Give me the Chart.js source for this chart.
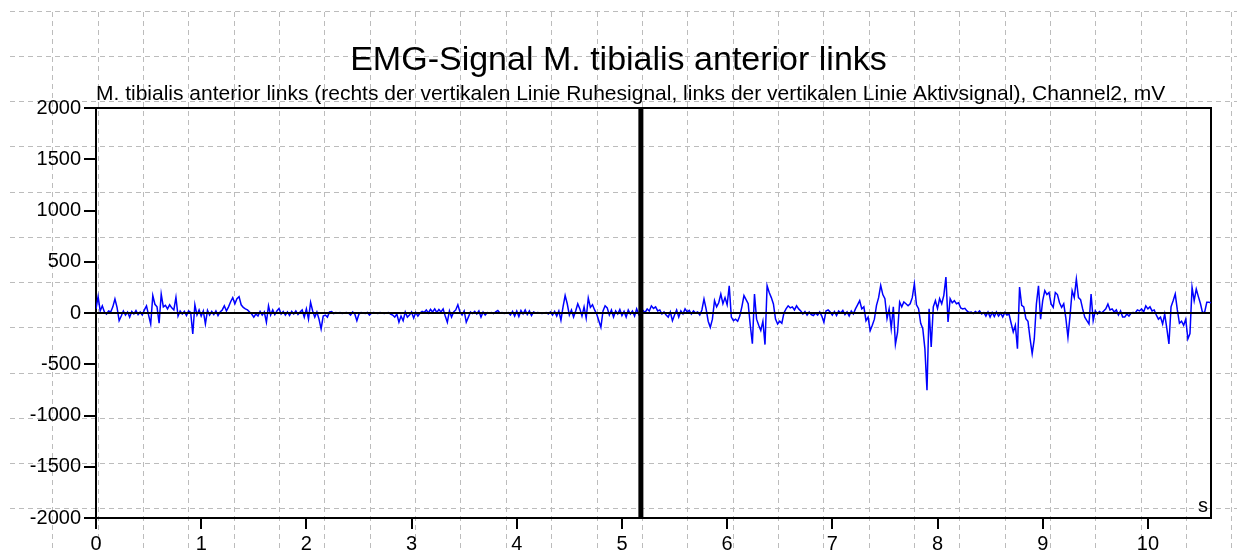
<!DOCTYPE html>
<html>
<head>
<meta charset="utf-8">
<script src="https://cdn.jsdelivr.net/npm/chart.js@4.4.1/dist/chart.umd.min.js"></script>
<style>
html,body{margin:0;padding:0;background:#fff;overflow:hidden}
#wrap{width:1237px;height:551px}
</style>
</head>
<body>
<div id="wrap"><canvas id="c" width="1237" height="551"></canvas></div>
<script>
const chartTitle = 'EMG-Signal M. tibialis anterior links';
const subTitle = 'M. tibialis anterior links (rechts der vertikalen Linie Ruhesignal, links der vertikalen Linie Aktivsignal), Channel2, mV';
const unitLabel = 's';
const xTickValues = [0, 1, 2, 3, 4, 5, 6, 7, 8, 9, 10];
const yTickValues = [-2000, -1500, -1000, -500, 0, 500, 1000, 1500, 2000];
const xRange = [0, 10.6];
const yRange = [-2000, 2000];
const sampleInterval = 0.02; // s between samples
const dividerTime = 5.18;     // vertical line (Aktiv | Ruhe)
const baselineValue = 0;

// Channel2 in mV, one row per 0.5 s (25 samples)
const signal = [
  40, 160, 20, 70, 10, -10, 20, 10, 60, 136, 55, -75, -30, 20, -20, 10, -40, 15, -10, 25, -15, 10, -20, 30, 70,
  -20, -107, 170, 85, 60, -100, 185, 60, 75, 40, 80, 50, 30, 152, -30, 20, -10, 15, -25, 20, 5, -205, 80, -20, 30,
  -30, 20, -107, 25, -20, 15, -15, 20, -25, 10, 30, 70, 20, 60, 110, 150, 90, 140, 160, 80, 55, 40, 30, 10, -10,
  -40, -10, -30, 15, -20, 10, -90, 70, -20, 30, -15, 20, 45, -10, 15, -20, 10, -25, 15, -10, 20, -15, 10, 30, -40,
  40, -60, 104, 20, -40, 10, -60, -156, -30, -20, -40, 10, 15, -5, 5, 0, 5, -5, 0, 5, 0, -20, 10, -10, -75,
  -10, 5, 0, -5, 5, -20, 0, 5, 0, -5, 5, 0, -5, 0, 5, -10, -20, -40, -10, -90, -30, -75, 10, -40, -20,
  10, -50, 5, -30, 0, 15, 5, 30, 0, 35, 10, 40, 5, 35, 10, 40, -30, -90, 20, -40, 10, 30, 80, 10, -20,
  20, -90, -40, 10, -5, 15, -10, 20, -40, 10, -20, 5, 0, 5, -5, 10, 25, 0, 5, -5, 0, 5, -20, 15, -30,
  20, -35, 25, -10, 30, -15, 20, -25, 10, 0, 5, 0, -5, 0, 5, -10, 10, -20, 15, -30, 20, -70, 60, 170, 90,
  -20, 30, -40, 20, 90, 40, -30, 60, -50, 146, 55, 80, 30, -10, -75, -140, 20, 70, 50, -20, 30, -40, 20, -10, 35,
  -25, 15, -40, 30, -10, 20, -30, 40, -15, 10, 25, 5, 40, 20, 70, 45, 60, 20, 30, -10, 10, -20, -40, 10, -75,
  -20, 30, -40, 20, -10, 40, 10, 25, -10, 20, 0, 10, -20, 30, 136, 40, -80, -140, -60, 120, 60, 100, 185, 90, 150,
  80, 266, -40, -75, -60, -80, -30, 60, 170, 130, 90, -120, -300, 185, -60, -120, -170, -80, -308, 266, 200, 150, 88, -60, -107,
  -80, -100, 0, 40, 70, 50, 60, 30, 70, 40, 20, -10, 15, -20, 10, -15, -25, 0, -20, 10, -30, -90, 20, 30, 10,
  -20, 15, -25, 20, 0, 25, -15, 10, -30, 20, -10, 40, 80, 120, 40, 60, -75, -40, -172, -120, -60, 75, 150, 270, 180,
  140, -55, 40, -150, 60, -305, -190, 107, 60, 107, 90, 70, 90, 150, 286, 80, 42, -100, -152, -348, -754, 42, -332, 60, 120,
  43, 140, 90, 172, 350, -88, 140, 100, 120, 90, 100, 50, 40, 45, 20, 5, 10, -5, 15, 0, 20, -10, 5, -30, 10,
  -40, 5, -35, 10, -30, 0, -40, 5, -20, -10, -100, -185, -120, -348, 253, 75, 60, -55, -80, -250, -397, -253, 88, 266, -60,
  120, 218, 180, 200, 88, 55, 200, 180, 100, 55, 90, -50, -237, -25, 218, 150, 330, 150, 130, 40, -40, -75, -107, 185, -75,
  20, -10, 15, 0, 20, 40, 88, 30, 40, 10, 30, -20, 20, -40, -40, -10, -30, 0, 5, 0, 30, 20, 40, 10, 70,
  40, 60, 20, 30, -20, -60, -40, -107, -10, -150, -302, 60, 120, 185, 30, -100, -80, -120, -60, -253, -200, 250, 120, 234, 160, 90, 0, 10, 104, 104, 100
];

const FONT = "'Liberation Sans', Arial, sans-serif";
Chart.defaults.font.family = FONT;
Chart.defaults.color = '#000';

const signalPoints = signal.map((v, i) => ({ x: Math.round(i * sampleInterval * 100) / 100, y: v }));

const paperGrid = {
  id: 'paperGrid',
  beforeDraw(chart) {
    const ctx = chart.ctx;
    ctx.save();
    ctx.fillStyle = '#fff';
    ctx.fillRect(0, 0, chart.width, chart.height);
    ctx.strokeStyle = '#bcbcbc';
    ctx.lineWidth = 1;
    ctx.setLineDash([5, 4]);
    for (let k = 0; k < 12; k++) {
      const y = Math.round(10.7 + 45.25 * k) + 0.5;
      ctx.beginPath(); ctx.moveTo(10, y); ctx.lineTo(chart.width, y); ctx.stroke();
    }
    for (let k = 0; k < 28; k++) {
      const x = Math.round(52.3 + 45.35 * k) + 0.5;
      if (x > chart.width) break;
      ctx.beginPath(); ctx.moveTo(x, 12); ctx.lineTo(x, chart.height); ctx.stroke();
    }
    ctx.restore();
  }
};

const unitText = {
  id: 'unitText',
  afterDraw(chart) {
    const { ctx, chartArea } = chart;
    ctx.save();
    ctx.font = '20px ' + FONT;
    ctx.fillStyle = '#000';
    ctx.textAlign = 'right';
    ctx.textBaseline = 'alphabetic';
    ctx.fillText(unitLabel, chartArea.right - 3, chartArea.bottom - 6);
    ctx.restore();
  }
};

const tickFont = { size: 20, family: FONT };
const plainNumber = v => String(v);

new Chart(document.getElementById('c'), {
  type: 'line',
  data: {
    datasets: [
      {
        label: 'Channel2',
        data: signalPoints,
        borderColor: '#0000ff',
        borderWidth: 1.5,
        pointRadius: 0,
        tension: 0,
        fill: false,
        order: 2
      },
      {
        label: 'Nulllinie',
        data: [{ x: xRange[0], y: baselineValue }, { x: xRange[1], y: baselineValue }],
        borderColor: '#000',
        borderWidth: 2,
        pointRadius: 0,
        fill: false,
        order: 1
      },
      {
        label: 'Trennlinie',
        data: [{ x: dividerTime, y: yRange[0] }, { x: dividerTime, y: yRange[1] }],
        borderColor: '#000',
        borderWidth: 5,
        pointRadius: 0,
        fill: false,
        order: 0
      }
    ]
  },
  options: {
    responsive: false,
    animation: false,
    devicePixelRatio: 1,
    layout: { padding: 0 },
    plugins: {
      legend: { display: false },
      tooltip: { enabled: false },
      title: {
        display: true,
        text: chartTitle,
        color: '#000',
        font: { size: 34, weight: 'normal', family: FONT },
        padding: { top: 40, bottom: 0 }
      }
    },
    scales: {
      x: {
        type: 'linear',
        position: 'bottom',
        min: xRange[0],
        max: xRange[1],
        afterBuildTicks: s => { s.ticks = xTickValues.map(v => ({ value: v })); },
        afterFit: s => { s.height = 33; },
        ticks: { autoSkip: false, maxRotation: 0, font: tickFont, color: '#000', padding: 3, callback: plainNumber },
        grid: { drawOnChartArea: false, drawTicks: true, tickLength: 11, color: '#000', lineWidth: 2 },
        border: { display: true, color: '#000', width: 2 }
      },
      y: {
        type: 'linear',
        position: 'left',
        min: yRange[0],
        max: yRange[1],
        afterBuildTicks: s => { s.ticks = yTickValues.map(v => ({ value: v })); },
        afterFit: s => { s.width = 96; },
        ticks: { font: tickFont, color: '#000', padding: 3, callback: plainNumber },
        grid: { drawOnChartArea: false, drawTicks: true, tickLength: 12, color: '#000', lineWidth: 2 },
        border: { display: true, color: '#000', width: 2 }
      },
      xTop: {
        type: 'linear',
        position: 'top',
        min: xRange[0],
        max: xRange[1],
        afterFit: s => { s.height = 27.2; },
        ticks: { display: false },
        grid: { display: false },
        border: { display: true, color: '#000', width: 2 },
        title: {
          display: true,
          text: subTitle,
          align: 'start',
          color: '#000',
          font: { size: 21, family: FONT },
          padding: { top: 1, bottom: 0 }
        }
      },
      yRight: {
        type: 'linear',
        position: 'right',
        min: yRange[0],
        max: yRange[1],
        afterFit: s => { s.width = 26; },
        ticks: { display: false },
        grid: { display: false },
        border: { display: true, color: '#000', width: 2 }
      }
    }
  },
  plugins: [paperGrid, unitText]
});
</script>
</body>
</html>
